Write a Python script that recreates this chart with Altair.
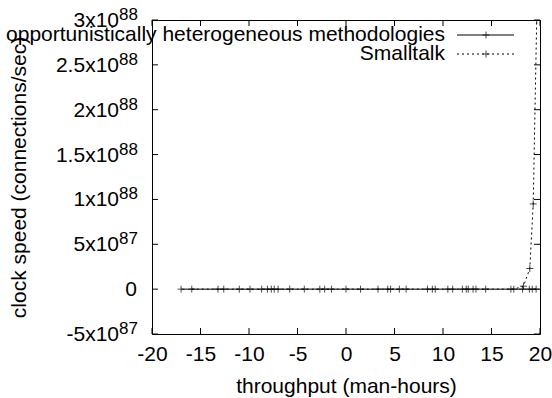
import altair as alt
import pandas as pd

FONT = "Liberation Sans"
FS = 21

series1_name = "opportunistically heterogeneous methodologies"
series2_name = "Smalltalk"

s1_x = [-17.0, -13.2, -11.0, -8.7, -7.7, -7.0, -4.3, -2.2, 0.0, 3.3, 4.6, 6.2,
        8.9, 10.5, 12.0, 12.6, 13.4, 17.0, 18.2, 18.9, 19.2, 19.6]
s1_y = [0, 0, 0, 0, 0, 0, 0, 0, 0, 0, 0, 0,
        0, 0, 0, 0, 0, 0, 0, 0, 0, 0]

s2_x = [-15.9, -12.6, -9.9, -8.1, -7.4, -5.8, -2.7, -1.5, 1.5, 4.3, 5.5, 8.4,
        9.2, 11.0, 12.4, 13.1, 14.4, 17.3, 18.3, 18.95, 19.3, 19.66]
s2_y = [0, 0, 0, 0, 0, 0, 0, 0, 0, 0, 0, 0,
        0, 0, 0, 0, 0, 0, 3.3e86, 2.3e87, 9.5e87, 3.0e88]

x_ticks = [-20, -15, -10, -5, 0, 5, 10, 15, 20]
y_ticks = [-5e87, 0, 5e87, 1e88, 1.5e88, 2e88, 2.5e88, 3e88]
y_tick_base = ["-5x10", "0", "5x10", "1x10", "1.5x10", "2x10", "2.5x10", "3x10"]
y_tick_exp = ["87", "", "87", "88", "88", "88", "88", "88"]

W, H = 388, 314

xscale = alt.Scale(domain=[-20, 20], nice=False, zero=False)
yscale = alt.Scale(domain=[-5e87, 3e88], nice=False, zero=False)
xaxis = alt.Axis(values=x_ticks, title="throughput (man-hours)", titleX=194, titleY=58,
                 titleBaseline="alphabetic", labelOverlap=False, labelFlush=False,
                 labelBound=False,
                 labelExpr="datum.value < 0 ? '-' + abs(datum.value) : '' + datum.value")
yaxis = alt.Axis(title="clock speed (connections/sec)", titleX=-127, titleY=157,
                 titleBaseline="alphabetic", labels=False)

def X(f="x"):
    return alt.X(f"{f}:Q", scale=xscale, axis=xaxis)

def Y(f="y"):
    return alt.Y(f"{f}:Q", scale=yscale, axis=yaxis)

df1 = pd.DataFrame({"x": s1_x, "y": s1_y})
df2 = pd.DataFrame({"x": s2_x, "y": s2_y})

PLUS = "M-1,0L1,0M0,-1L0,1"

line1 = alt.Chart(df1).mark_line(color="black", strokeWidth=1, clip=True).encode(x=X(), y=Y())
pts1 = alt.Chart(df1).mark_point(shape=PLUS, size=49, filled=False, stroke="black",
                                 strokeWidth=1, clip=True).encode(x=X(), y=Y())
line2 = alt.Chart(df2).mark_line(color="black", strokeWidth=1, strokeDash=[2, 3],
                                 clip=True).encode(x=X(), y=Y())
pts2 = alt.Chart(df2).mark_point(shape=PLUS, size=49, filled=False, stroke="black",
                                 strokeWidth=1, clip=True).encode(x=X(), y=Y())

ydf = pd.DataFrame({"y": y_ticks, "base": y_tick_base, "exp": y_tick_exp})
xdf = pd.DataFrame({"x": x_ticks})

ytick_l = alt.Chart(ydf).mark_rule(color="black").encode(y=Y(), x=alt.value(0), x2=alt.value(6))
ytick_r = alt.Chart(ydf).mark_rule(color="black").encode(y=Y(), x=alt.value(W - 6), x2=alt.value(W))
xtick_b = alt.Chart(xdf).mark_rule(color="black").encode(x=X(), y=alt.value(H - 6), y2=alt.value(H))
xtick_t = alt.Chart(xdf).mark_rule(color="black").encode(x=X(), y=alt.value(0), y2=alt.value(6))

ylab_base = alt.Chart(ydf).transform_filter("datum.exp != ''").mark_text(
    align="right", baseline="alphabetic", dy=7, fontSize=FS, font=FONT, color="black"
).encode(y=Y(), x=alt.value(-33), text="base:N")
ylab_exp = alt.Chart(ydf).transform_filter("datum.exp != ''").mark_text(
    align="left", baseline="alphabetic", dy=0, fontSize=17, font=FONT, color="black"
).encode(y=Y(), x=alt.value(-33), text="exp:N")
ylab_zero = alt.Chart(ydf).transform_filter("datum.exp == ''").mark_text(
    align="right", baseline="alphabetic", dy=7, fontSize=FS, font=FONT, color="black"
).encode(y=Y(), x=alt.value(-15), text="base:N")

leg_names = [series1_name, series2_name]
legdf = pd.DataFrame({"name": leg_names})

def legend_entry(name, ypix, dash):
    d = legdf[legdf["name"] == name]
    t = alt.Chart(d).mark_text(align="right", baseline="middle", fontSize=FS, font=FONT,
                               color="black").encode(text="name:N", x=alt.value(293), y=alt.value(ypix))
    rule_kwargs = dict(color="black", strokeWidth=1)
    if dash:
        rule_kwargs["strokeDash"] = [2, 3]
    r = alt.Chart(d).mark_rule(**rule_kwargs).encode(x=alt.value(305), x2=alt.value(362),
                                                     y=alt.value(ypix))
    p = alt.Chart(d).mark_point(shape=PLUS, size=49, filled=False, stroke="black",
                                strokeWidth=1).encode(x=alt.value(334), y=alt.value(ypix))
    return [t, r, p]

leg = legend_entry(series1_name, 15, False) + legend_entry(series2_name, 34, True)

chart = alt.layer(
    line1, pts1, line2, pts2, ytick_l, ytick_r, xtick_b, xtick_t,
    ylab_base, ylab_exp, ylab_zero, *leg
).properties(
    width=W, height=H,
    autosize=alt.AutoSizeParams(type="none"),
    padding={"left": 152, "top": 20, "right": 12, "bottom": 64},
    background="white",
).configure_view(
    stroke="black", strokeWidth=1
).configure_axis(
    ticks=False, domain=False, grid=False,
    labelFont=FONT, labelFontSize=FS, labelColor="black", labelPadding=9,
    titleFont=FONT, titleFontSize=FS, titleFontWeight="normal", titleColor="black",
)

chart.save("out.html", embed_options={"renderer": "svg", "actions": False})
